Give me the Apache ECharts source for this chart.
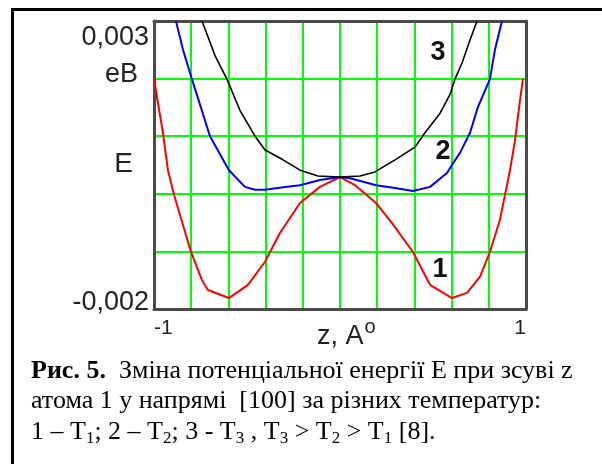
<!DOCTYPE html>
<html>
<head>
<meta charset="utf-8">
<script src="https://cdn.jsdelivr.net/npm/echarts@6/dist/echarts.min.js"></script>
<style>
  html, body { margin: 0; padding: 0; background: #fff; }
  #chart { width: 602px; height: 464px; }
</style>
</head>
<body>
<div id="chart"></div>
<script>
// curve 1 (T1), red
const z1 = [-1.0, -0.984, -0.952, -0.925, -0.892, -0.801, -0.742, -0.710, -0.597, -0.495, -0.403, -0.323, -0.215, -0.108, 0.0,
  0.081, 0.194, 0.280, 0.392, 0.484, 0.602, 0.683, 0.753, 0.806, 0.860, 0.914, 0.941, 0.968, 0.984];
const e1 = [0.00200, 0.00168, 0.00106, 0.00041, -0.00002, -0.00101, -0.00150, -0.00167, -0.00181, -0.00158, -0.00118, -0.00068, -0.00016, 0.00012, 0.00029,
  0.00015, -0.00016, -0.00051, -0.00101, -0.00158, -0.00181, -0.00172, -0.00144, -0.00101, -0.00045, 0.00041, 0.00093, 0.00163, 0.00200];

// curve 2 (T2), blue
const z2 = [-0.882, -0.844, -0.796, -0.699, -0.597, -0.511, -0.457, -0.403, -0.296, -0.215, -0.108, 0.0, 0.054, 0.194, 0.296,
  0.392, 0.484, 0.575, 0.608, 0.645, 0.699, 0.742, 0.806, 0.833, 0.871];
const e2 = [0.00300, 0.00250, 0.00199, 0.00100, 0.00041, 0.00012, 0.00007, 0.00007, 0.00012, 0.00015, 0.00024, 0.00029, 0.00027, 0.00015, 0.00010,
  0.00005, 0.00012, 0.00036, 0.00053, 0.00071, 0.00106, 0.00151, 0.00199, 0.00250, 0.00300];

// curve 3 (T3), black
const z3 = [-0.742, -0.672, -0.608, -0.538, -0.457, -0.403, -0.306, -0.215, -0.118, 0.0, 0.108, 0.188, 0.296, 0.403, 0.457,
  0.538, 0.591, 0.618, 0.656, 0.699, 0.737];
const e3 = [0.00300, 0.00240, 0.00199, 0.00145, 0.00100, 0.00076, 0.00059, 0.00041, 0.00031, 0.00029, 0.00031, 0.00038, 0.00059, 0.00081, 0.00106,
  0.00140, 0.00172, 0.00199, 0.00227, 0.00267, 0.00300];

const xTickValues = [-1, 1];
const xTickLabels = ['-1', '1'];
const yTickValues = [-0.002, 0.003];
const yTickLabels = ['-0,002', '0,003'];
const curveNames = ['1', '2', '3'];
const curveNameAt = [[0.538, -0.00132], [0.554, 0.00073], [0.527, 0.00246]];

const caption = [
  ['Рис. 5.', '  Зміна потенціальної енергії Е при зсуві z'],
  'атома 1 у напрямі  [100] за різних температур:',
  [['1 – T', '1'], ['; 2 – T', '2'], ['; 3 - T', '3'], [' , T', '3'], [' > T', '2'], [' > T', '1'], [' [8].', '']]
];

const SANS = 'Liberation Sans, Arial, sans-serif';
const SERIF = 'Liberation Serif, Times New Roman, serif';

const pairs = (zs, es) => zs.map((z, i) => [z, es[i]]);
const pick = (values, labels) => (v) => {
  const i = values.findIndex(t => Math.abs(t - v) < 1e-9);
  return i < 0 ? '' : labels[i];
};

const chart = echarts.init(document.getElementById('chart'), null, { renderer: 'canvas' });

const axisLine = { show: true, onZero: false, lineStyle: { color: '#4a4a4a', width: 3 } };
const green = { show: true, showMinLine: false, showMaxLine: false, lineStyle: { color: '#00ff00', width: 2 } };

const curve = (data, color, width, idx) => ({
  type: 'line',
  data,
  symbol: 'none',
  lineStyle: { color, width },
  markPoint: {
    symbol: 'circle',
    symbolSize: 0,
    data: [{ coord: curveNameAt[idx] }],
    label: {
      show: true, position: 'inside', formatter: curveNames[idx],
      fontFamily: SANS, fontSize: 27, fontWeight: 'bold', color: '#111'
    }
  }
});

const yLabel = pick(yTickValues, yTickLabels);

const option = {
  animation: false,
  backgroundColor: '#fff',
  grid: { left: 154, top: 21, right: 76, bottom: 155 },
  xAxis: [
    {
      type: 'value', min: -1, max: 1, interval: 0.2,
      axisLine, axisTick: { show: false }, splitLine: green,
      axisLabel: {
        formatter: pick(xTickValues, xTickLabels),
        fontFamily: SANS, fontSize: 21, color: '#222', margin: 9,
        alignMinLabel: 'left', alignMaxLabel: 'right'
      }
    },
    {
      type: 'value', position: 'top', min: -1, max: 1, interval: 0.2,
      axisLine, axisTick: { show: false }, axisLabel: { show: false }, splitLine: { show: false }
    }
  ],
  yAxis: [
    {
      type: 'value', min: -0.002, max: 0.003, interval: 0.001,
      axisLine, axisTick: { show: false }, splitLine: green,
      axisLabel: {
        formatter: (v) => {
          const s = yLabel(v);
          if (!s) return '';
          return v > 0 ? '{t|' + s + '}' : '{b|' + s + '}';
        },
        fontFamily: SANS, fontSize: 27, color: '#222', margin: 5,
        rich: {
          t: { fontFamily: SANS, fontSize: 27, color: '#222', padding: [34, 0, 0, 0] },
          b: { fontFamily: SANS, fontSize: 27, color: '#222', padding: [0, 0, 12, 0] }
        }
      }
    },
    {
      type: 'value', position: 'right', min: -0.002, max: 0.003, interval: 0.001,
      axisLine, axisTick: { show: false }, axisLabel: { show: false }, splitLine: { show: false }
    }
  ],
  series: [
    curve(pairs(z1, e1), '#ff0000', 2, 0),
    curve(pairs(z2, e2), '#0000ff', 2, 1),
    curve(pairs(z3, e3), '#000000', 1.6, 2)
  ],
  graphic: [
    // frame around figure
    { type: 'line', shape: { x1: 12, y1: 9.5, x2: 602, y2: 9.5 }, style: { stroke: '#000', lineWidth: 3 } },
    { type: 'line', shape: { x1: 12.5, y1: 8, x2: 12.5, y2: 464 }, style: { stroke: '#000', lineWidth: 3 } },
    // y axis name
    { type: 'text', x: 138, y: 75, style: { text: 'eB', font: '27px ' + SANS, fill: '#222', align: 'right', verticalAlign: 'middle' } },
    { type: 'text', x: 133, y: 164, style: { text: 'E', font: '28px ' + SANS, fill: '#222', align: 'right', verticalAlign: 'middle' } },
    // x axis name
    {
      type: 'text', x: 317, y: 337,
      style: {
        text: '{n|z, A}{s|o}', verticalAlign: 'middle', align: 'left',
        rich: {
          n: { fontFamily: SANS, fontSize: 27, fill: '#222', lineHeight: 30, verticalAlign: 'middle' },
          s: { fontFamily: SANS, fontSize: 20, fill: '#222', lineHeight: 40, verticalAlign: 'top', padding: [0, 0, 0, 1] }
        }
      }
    },
    // caption
    {
      type: 'text', x: 31, y: 371,
      style: {
        text: '{b|' + caption[0][0] + '}{n|' + caption[0][1] + '}', verticalAlign: 'middle',
        rich: {
          b: { fontFamily: SERIF, fontSize: 26, fontWeight: 'bold', fill: '#000', lineHeight: 30 },
          n: { fontFamily: SERIF, fontSize: 26, fill: '#000', lineHeight: 30 }
        }
      }
    },
    {
      type: 'text', x: 31, y: 401,
      style: { text: caption[1], font: '26px ' + SERIF, fill: '#000', verticalAlign: 'middle' }
    },
    {
      type: 'text', x: 31, y: 432,
      style: {
        text: caption[2].map(p => '{n|' + p[0] + '}' + (p[1] ? '{s|' + p[1] + '}' : '')).join(''),
        verticalAlign: 'middle',
        rich: {
          n: { fontFamily: SERIF, fontSize: 26, fill: '#000', lineHeight: 30, verticalAlign: 'middle' },
          s: { fontFamily: SERIF, fontSize: 17, fill: '#000', lineHeight: 18, verticalAlign: 'bottom' }
        }
      }
    }
  ]
};

chart.setOption(option);
</script>
</body>
</html>
